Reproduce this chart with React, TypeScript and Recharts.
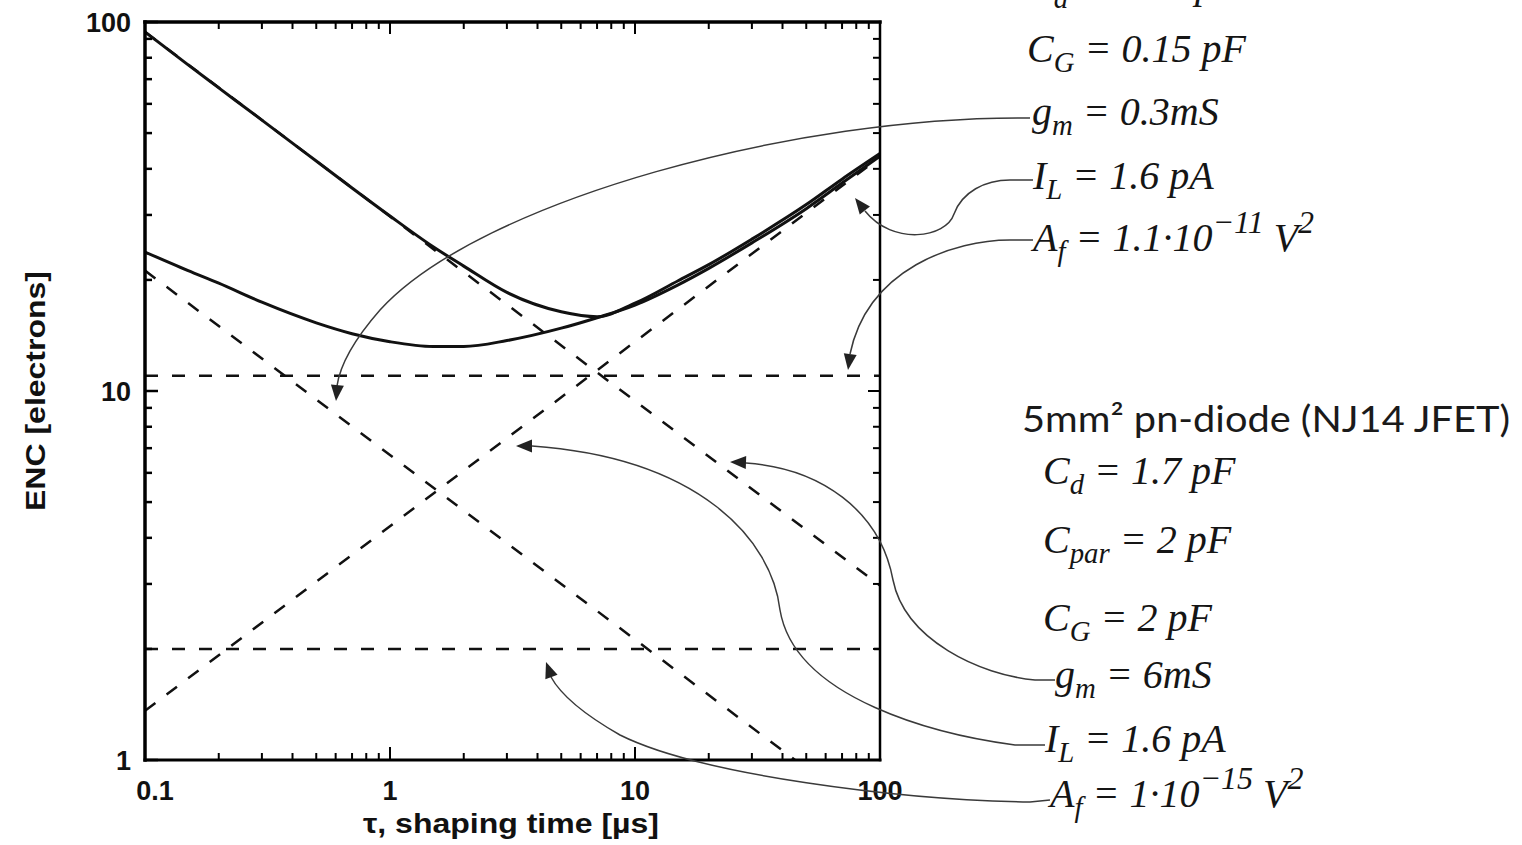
import { LineChart, Line, XAxis, YAxis } from 'recharts';

// axis ticks (log decades with minor ticks)
const X_TICKS = [0.1, 0.2, 0.3, 0.4, 0.5, 0.6, 0.7, 0.8, 0.9, 1, 2, 3, 4, 5, 6, 7, 8, 9, 10, 20, 30, 40, 50, 60, 70, 80, 90, 100];
const Y_TICKS = [1, 2, 3, 4, 5, 6, 7, 8, 9, 10, 20, 30, 40, 50, 60, 70, 80, 90, 100];
const X_MAJOR = [0.1, 1, 10, 100];
const Y_MAJOR = [1, 10, 100];

// total ENC curves
const TAU = [0.1, 0.15, 0.2, 0.3, 0.5, 0.7, 1, 1.5, 2, 3, 5, 7, 10, 15, 20, 30, 50, 70, 100];
const ENC_SMALL = [94, 76.5, 66.3, 54.2, 42, 35.5, 29.8, 24.6, 21.8, 18.5, 16.4, 15.9, 17.3, 19.9, 22, 25.8, 32, 37.5, 44];
const ENC_DIODE = [23.8, 21.2, 19.6, 17.4, 15.3, 14.3, 13.6, 13.2, 13.2, 13.7, 14.8, 15.8, 17.1, 19.4, 21.5, 25.2, 31.2, 36.6, 43.3];

// individual noise contributions (dashed)
const SERIES_SMALL_TAU = [0.1, 100];
const SERIES_SMALL = [94, 2.97];
const SERIES_DIODE_TAU = [0.1, 45];
const SERIES_DIODE = [21.2, 1];
const PARALLEL_TAU = [0.1, 100];
const PARALLEL = [1.36, 43];
const FLICKER_TAU = [0.1, 100];
const FLICKER_SMALL = [11, 11];
const FLICKER_DIODE = [2, 2];

const pts = (t: number[], v: number[]) => t.map((tau, i) => ({ tau, enc: v[i] }));

const SANS = "'Liberation Sans', Arial, Helvetica, sans-serif";
const SERIF = "'Liberation Serif', 'Times New Roman', serif";

function BottomTick({ x, y, payload }: any) {
  const major = X_MAJOR.includes(payload.value);
  return (
    <g>
      <line x1={x} y1={y} x2={x} y2={y - (major ? 13 : 7)} stroke="#000" strokeWidth={2} />
      {major && (
        <text x={x + (payload.value === 0.1 ? 10 : 0)} y={y + 31} textAnchor="middle" dominantBaseline="central"
          fontFamily={SANS} fontWeight="bold" fontSize={27} fill="#111">
          {payload.value}
        </text>
      )}
    </g>
  );
}

function TopTick({ x, y, payload }: any) {
  const major = X_MAJOR.includes(payload.value);
  return <line x1={x} y1={y} x2={x} y2={y + (major ? 12 : 7)} stroke="#000" strokeWidth={2} />;
}

function LeftTick({ x, y, payload }: any) {
  const major = Y_MAJOR.includes(payload.value);
  return (
    <g>
      <line x1={x} y1={y} x2={x + (major ? 13 : 7)} y2={y} stroke="#000" strokeWidth={2.5} />
      <text x={x - 14} y={y + 1} textAnchor="end" dominantBaseline="central"
        fontFamily={SANS} fontWeight="bold" fontSize={27} fill="#111">
        {major ? payload.value : ''}
      </text>
    </g>
  );
}

function RightTick({ x, y, payload }: any) {
  const major = Y_MAJOR.includes(payload.value);
  return <line x1={x} y1={y} x2={x - (major ? 12 : 7)} y2={y} stroke="#000" strokeWidth={2} />;
}

type Part = { t: string; sub?: boolean; sup?: boolean };

function MathText({ x, y, parts, size = 40 }: { x: number; y: number; parts: Part[]; size?: number }) {
  let shift = 0;
  return (
    <text x={x} y={y} fontFamily={SERIF} fontStyle="italic" fontSize={size} fill="#151515">
      {parts.map((p, i) => {
        const target = p.sub ? size * 0.25 : p.sup ? -size * 0.45 : 0;
        const dy = target - shift;
        shift = target;
        return (
          <tspan key={i} dy={dy} fontSize={p.sub ? size * 0.72 : p.sup ? size * 0.8 : size}>
            {p.t}
          </tspan>
        );
      })}
    </text>
  );
}

function ArrowHead({ x, y, angle }: { x: number; y: number; angle: number }) {
  return <polygon points="0,0 -16,-6.5 -16,6.5" transform={`translate(${x},${y}) rotate(${angle})`} fill="#222" />;
}

const LEADERS = [
  'M1030,118 C800,115 480,200 380,310 C352,342 340,365 337,386',
  'M1033,180 L1010,180 C985,180 962,192 954,214 C946,238 893,246 865,211',
  'M1033,240 L1010,240 C955,240 868,268 850,354',
  'M1055,680 L1035,680 C980,675 905,640 893,580 C880,510 820,468 746,463',
  'M1045,745 L1015,745 C940,735 795,700 780,610 C772,540 700,458 532,446',
  'M1050,800 L1030,802 C900,800 700,775 620,735 C585,715 562,697 551,677',
];

const HEADS = [
  { x: 336, y: 401, angle: 95 },
  { x: 855, y: 198, angle: -128 },
  { x: 848, y: 370, angle: 98 },
  { x: 730, y: 462, angle: 182 },
  { x: 516, y: 446, angle: 180 },
  { x: 546, y: 662, angle: -110 },
];

export default function App() {
  const dashed = { stroke: '#111', strokeWidth: 2.5, strokeDasharray: '13 14', dot: false, isAnimationActive: false } as const;
  return (
    <div style={{ position: 'absolute', left: 0, top: 0, width: 1522, height: 845, background: '#fff', overflow: 'hidden' }}>
      <LineChart width={1522} height={845} margin={{ top: 20, right: 640, bottom: 55, left: 105 }}>
        <XAxis dataKey="tau" type="number" scale="log" domain={[0.1, 100]} allowDataOverflow ticks={X_TICKS}
          interval={0} height={30} tickSize={0} tickMargin={0} tickLine={false}
          axisLine={{ stroke: '#000', strokeWidth: 3, strokeLinecap: 'square' }} tick={<BottomTick />} />
        <XAxis xAxisId="top" orientation="top" dataKey="tau" type="number" scale="log" domain={[0.1, 100]}
          allowDataOverflow ticks={X_TICKS} interval={0} height={2} tickSize={0} tickMargin={0} tickLine={false}
          axisLine={{ stroke: '#000', strokeWidth: 3.5, strokeLinecap: 'square' }} tick={<TopTick />} />
        <YAxis type="number" scale="log" domain={[1, 100]} allowDataOverflow ticks={Y_TICKS} interval={0}
          width={40} tickSize={0} tickMargin={0} tickLine={false}
          axisLine={{ stroke: '#000', strokeWidth: 3.5, strokeLinecap: 'square' }} tick={<LeftTick />} />
        <YAxis yAxisId="right" orientation="right" type="number" scale="log" domain={[1, 100]} allowDataOverflow
          ticks={Y_TICKS} interval={0} width={2} tickSize={0} tickMargin={0} tickLine={false}
          axisLine={{ stroke: '#000', strokeWidth: 2.5, strokeLinecap: 'square' }} tick={<RightTick />} />

        <Line data={pts(FLICKER_TAU, FLICKER_SMALL)} dataKey="enc" type="linear" {...dashed} />
        <Line data={pts(FLICKER_TAU, FLICKER_DIODE)} dataKey="enc" type="linear" {...dashed} />
        <Line data={pts(SERIES_SMALL_TAU, SERIES_SMALL)} dataKey="enc" type="linear" {...dashed} />
        <Line data={pts(SERIES_DIODE_TAU, SERIES_DIODE)} dataKey="enc" type="linear" {...dashed} />
        <Line data={pts(PARALLEL_TAU, PARALLEL)} dataKey="enc" type="linear" {...dashed} />

        <Line data={pts(TAU, ENC_SMALL)} dataKey="enc" type="monotone" stroke="#111" strokeWidth={3} dot={false} isAnimationActive={false} />
        <Line data={pts(TAU, ENC_DIODE)} dataKey="enc" type="monotone" stroke="#111" strokeWidth={3} dot={false} isAnimationActive={false} />
      </LineChart>

      <svg width={1522} height={845} style={{ position: 'absolute', left: 0, top: 0, pointerEvents: 'none' }}>
        <text x={36} y={391} transform="rotate(-90 36 391)" textAnchor="middle" dominantBaseline="central"
          fontFamily={SANS} fontWeight="bold" fontSize={27} fill="#111" textLength={240} lengthAdjust="spacingAndGlyphs">
          ENC [electrons]
        </text>
        <text x={511} y={824} textAnchor="middle" dominantBaseline="central"
          fontFamily={SANS} fontWeight="bold" fontSize={27} fill="#111" textLength={296} lengthAdjust="spacingAndGlyphs">
          τ, shaping time [µs]
        </text>

        {LEADERS.map((d, i) => (
          <path key={i} d={d} fill="none" stroke="#3a3a3a" strokeWidth={1.5} />
        ))}
        {HEADS.map((h, i) => (
          <ArrowHead key={i} {...h} />
        ))}

        <MathText x={1027} y={-2} parts={[{ t: 'C' }, { t: 'd', sub: true }, { t: ' = 0.15 pF' }]} />
        <MathText x={1027} y={62} parts={[{ t: 'C' }, { t: 'G', sub: true }, { t: ' = 0.15 pF' }]} />
        <MathText x={1032} y={125} parts={[{ t: 'g' }, { t: 'm', sub: true }, { t: ' = 0.3mS' }]} />
        <MathText x={1033} y={189} parts={[{ t: 'I' }, { t: 'L', sub: true }, { t: ' = 1.6 pA' }]} />
        <MathText x={1033} y={251} parts={[{ t: 'A' }, { t: 'f', sub: true }, { t: ' = 1.1·10' }, { t: '−11', sup: true }, { t: ' V' }, { t: '2', sup: true }]} />

        <text x={1022} y={432} fontFamily="Lato, 'Open Sans', sans-serif" fontSize={36} fill="#1a1a1a"
          textLength={488} lengthAdjust="spacingAndGlyphs">
          5mm² pn-diode (NJ14 JFET)
        </text>
        <MathText x={1043} y={484} parts={[{ t: 'C' }, { t: 'd', sub: true }, { t: ' = 1.7 pF' }]} />
        <MathText x={1043} y={553} parts={[{ t: 'C' }, { t: 'par', sub: true }, { t: ' = 2 pF' }]} />
        <MathText x={1043} y={631} parts={[{ t: 'C' }, { t: 'G', sub: true }, { t: ' = 2 pF' }]} />
        <MathText x={1055} y={688} parts={[{ t: 'g' }, { t: 'm', sub: true }, { t: ' = 6mS' }]} />
        <MathText x={1045} y={752} parts={[{ t: 'I' }, { t: 'L', sub: true }, { t: ' = 1.6 pA' }]} />
        <MathText x={1050} y={807} parts={[{ t: 'A' }, { t: 'f', sub: true }, { t: ' = 1·10' }, { t: '−15', sup: true }, { t: ' V' }, { t: '2', sup: true }]} />
      </svg>
    </div>
  );
}
